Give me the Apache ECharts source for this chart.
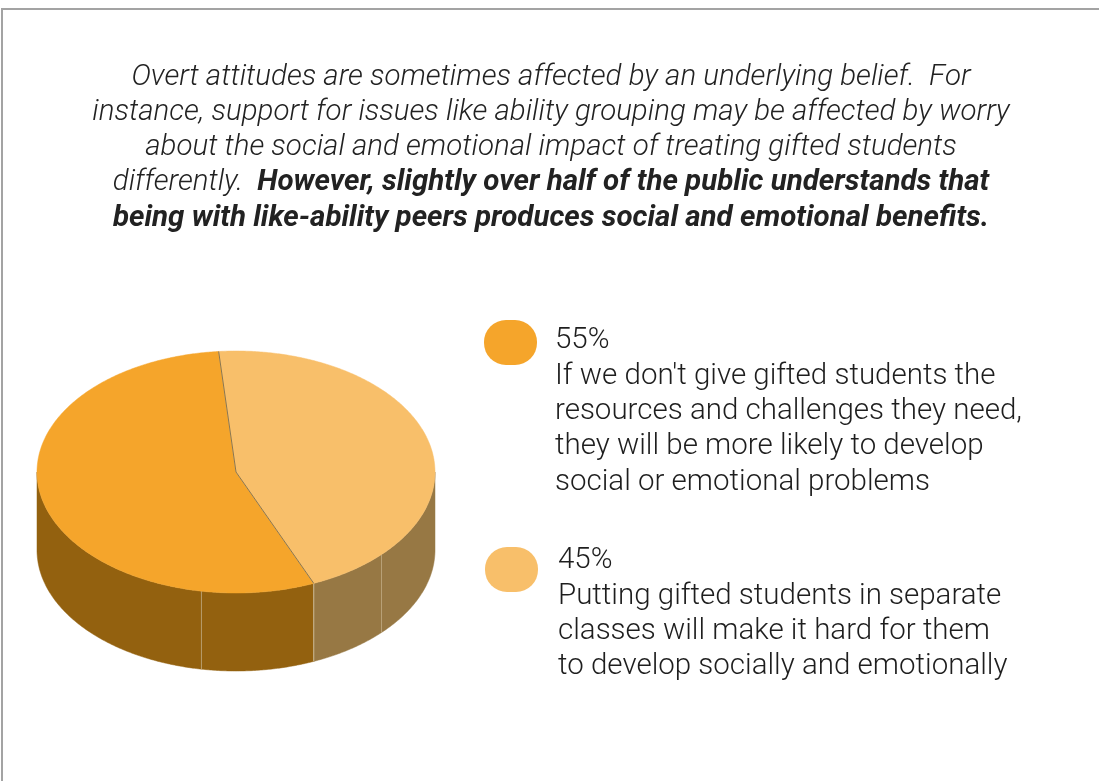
<!DOCTYPE html>
<html>
<head>
<meta charset="utf-8">
<style>
  html, body { margin: 0; padding: 0; background: #ffffff; }
  #chart { width: 1099px; height: 781px; }
</style>
<script src="https://cdn.jsdelivr.net/npm/echarts@6/dist/echarts.min.js"></script>
</head>
<body>
<div id="chart"></div>
<script>
// ---------- data ----------
const categories = [
  "If we don't give gifted students the\nresources and challenges they need,\nthey will be more likely to develop\nsocial or emotional problems",
  "Putting gifted students in separate\nclasses will make it hard for them\nto develop socially and emotionally"
];
const values = [55, 45];
const percentLabels = ['55%', '45%'];
const titleLines = [
  'Overt attitudes are sometimes affected by an underlying belief.  For',
  'instance, support for issues like ability grouping may be affected by worry',
  'about the social and emotional impact of treating gifted students'
];
const titleMixedPlain = 'differently.  ';
const titleMixedBold = 'However, slightly over half of the public understands that';
const titleBoldLine = 'being with like-ability peers produces social and emotional benefits.';

// ---------- style ----------
const topColors = ['#F5A52B', '#F8BF6A'];
const sideColors = ['#93610F', '#977844'];
const seamAngles = [260, 317];
const geo = { cx: 236, cy: 472, rx: 199, ry: 121, depth: 78, start: 95 };

const total = values.reduce((a, b) => a + b, 0);
function sliceRange(i) {
  let cum = 0;
  for (let k = 0; k < i; k++) cum += values[k];
  const a0 = geo.start + cum / total * 360;
  const a1 = a0 + values[i] / total * 360;
  return [a0, a1];
}
function pt(tDeg, dy) {
  const t = tDeg * Math.PI / 180;
  return [geo.cx + geo.rx * Math.cos(t), geo.cy - geo.ry * Math.sin(t) + (dy || 0)];
}
function arcPts(a0, a1, dy) {
  const pts = [];
  const n = Math.max(2, Math.ceil(Math.abs(a1 - a0) * 2));
  for (let j = 0; j <= n; j++) pts.push(pt(a0 + (a1 - a0) * j / n, dy));
  return pts;
}

function renderSide(params, api) {
  const i = params.dataIndex;
  const [a0, a1] = sliceRange(i);
  const children = [];
  const bounds = [];
  for (const k of [-360, 0, 360]) {
    const s = Math.max(a0 + k, 180), e = Math.min(a1 + k, 360);
    if (e > s) bounds.push([s, e]);
  }
  bounds.forEach(([s, e]) => {
    const top = arcPts(s, e, 0);
    const bot = arcPts(e, s, geo.depth);
    children.push({
      type: 'polygon',
      shape: { points: top.concat(bot) },
      style: { fill: sideColors[i], stroke: sideColors[i], lineWidth: 0.5 }
    });
    seamAngles.forEach(a => {
      if (a > s + 0.5 && a < e - 0.5) {
        const p = pt(a, 0), q = pt(a, geo.depth);
        children.push({ type: 'line', shape: { x1: p[0], y1: p[1], x2: q[0], y2: q[1] },
          style: { stroke: '#c2ad86', lineWidth: 1, opacity: 0.8 }, z2: 5 });
      }
    });
    if (s > 180.5) {
      const p = pt(s, 0), q = pt(s, geo.depth);
      children.push({ type: 'line', shape: { x1: p[0], y1: p[1], x2: q[0], y2: q[1] },
        style: { stroke: '#cbb995', lineWidth: 1 }, z2: 6 });
    }
  });
  return { type: 'group', children: children };
}

function renderTop(params, api) {
  const i = params.dataIndex;
  const [a0, a1] = sliceRange(i);
  const arc = arcPts(a0, a1, 0);
  const children = [{
    type: 'polygon',
    shape: { points: [[geo.cx, geo.cy]].concat(arc) },
    style: { fill: topColors[i], stroke: topColors[i], lineWidth: 0.5 }
  }];
  const p = pt(a0, 0);
  children.push({ type: 'line', shape: { x1: geo.cx, y1: geo.cy, x2: p[0], y2: p[1] },
    style: { stroke: '#8a7650', lineWidth: 1 }, z2: 10 });
  return { type: 'group', children: children };
}

// ---------- graphics: frame, title, legend ----------
const graphics = [];
graphics.push({ type: 'rect', shape: { x: 2, y: 9, width: 1300, height: 1000 },
  style: { fill: 'none', stroke: '#a3a3a3', lineWidth: 2 }, silent: true, z: 0 });

const titleFont = { fontFamily: 'Roboto', fontSize: 29.5, fontStyle: 'italic', fill: '#222222' };
const titleY0 = 77.5, titleDY = 35.2;
titleLines.forEach((t, k) => {
  graphics.push({ type: 'text', x: 551, y: titleY0 + k * titleDY,
    style: Object.assign({ text: t, align: 'center', verticalAlign: 'middle', fontWeight: 300 }, titleFont) });
});
graphics.push({ type: 'text', x: 551, y: titleY0 + 3 * titleDY,
  style: Object.assign({
    text: '{a|' + titleMixedPlain + '}{b|' + titleMixedBold + '}',
    align: 'center', verticalAlign: 'middle',
    rich: {
      a: Object.assign({ fontWeight: 300 }, titleFont),
      b: Object.assign({ fontWeight: 'bold' }, titleFont)
    }
  }, titleFont) });
graphics.push({ type: 'text', x: 551, y: titleY0 + 4 * titleDY,
  style: Object.assign({ text: titleBoldLine, align: 'center', verticalAlign: 'middle', fontWeight: 'bold' }, titleFont) });

const legendPos = [{ mx: 484, my: 320, tx: 555, ty: 341 }, { mx: 485, my: 547, tx: 558, ty: 561 }];
categories.forEach((c, i) => {
  const L = legendPos[i];
  graphics.push({ type: 'rect', shape: { x: L.mx, y: L.my, width: 53, height: 45, r: 22 },
    style: { fill: topColors[i] } });
  graphics.push({ type: 'text', x: L.tx, y: L.ty - 17.6,
    style: { text: percentLabels[i] + '\n' + c, fontFamily: 'Roboto', fontWeight: 300,
      fontSize: 29.5, lineHeight: 35.3, fill: '#1e1e1e', align: 'left', verticalAlign: 'top' } });
});

const chart = echarts.init(document.getElementById('chart'), null, { renderer: 'canvas' });
chart.setOption({
  backgroundColor: '#ffffff',
  animation: false,
  series: [
    { type: 'custom', coordinateSystem: 'none', z: 1, renderItem: renderSide,
      data: values.map((v, i) => ({ name: percentLabels[i], value: v })) },
    { type: 'custom', coordinateSystem: 'none', z: 2, renderItem: renderTop,
      data: values.map((v, i) => ({ name: percentLabels[i], value: v })) }
  ],
  graphic: graphics
});
</script>
</body>
</html>
